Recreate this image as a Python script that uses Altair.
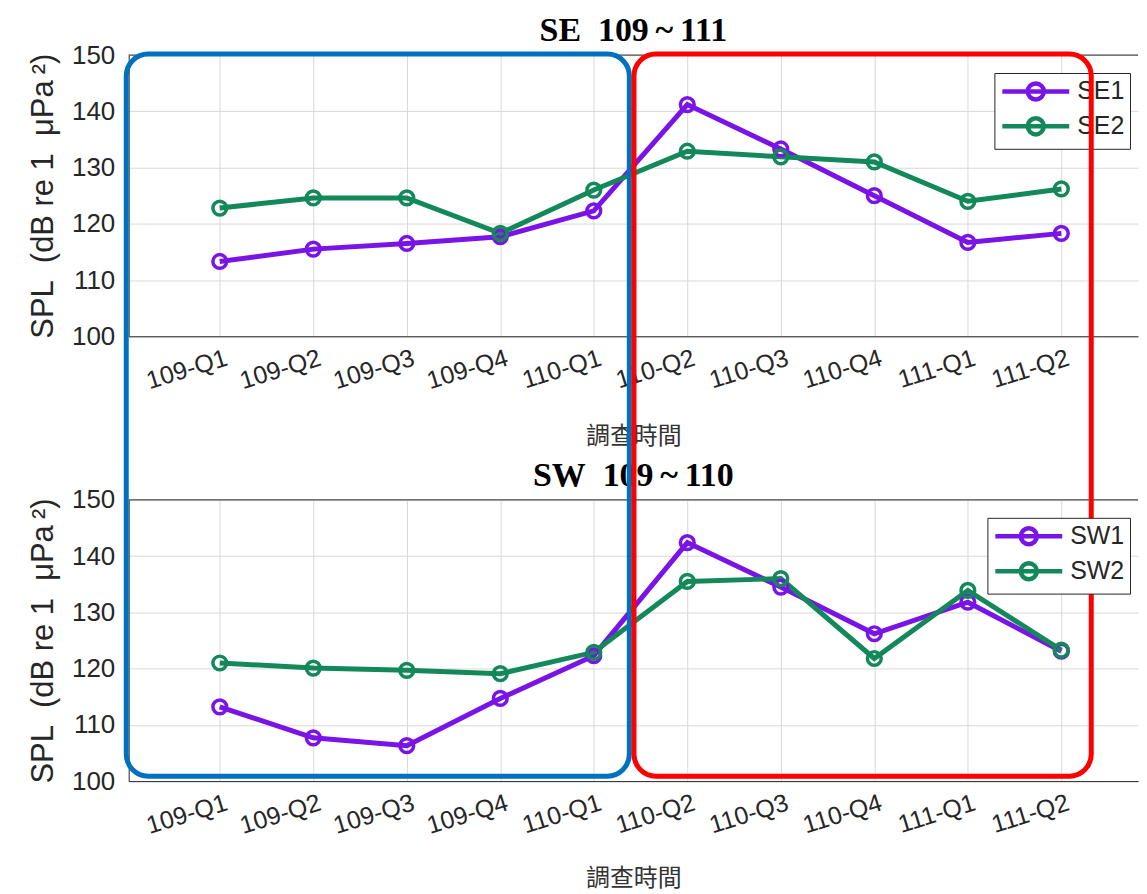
import json
import altair as alt
import pandas as pd

# ---------------- data ----------------
quarters = ["109-Q1", "109-Q2", "109-Q3", "109-Q4", "110-Q1",
            "110-Q2", "110-Q3", "110-Q4", "111-Q1", "111-Q2"]
positions = list(range(1, 11))

se_title = "SE\u00a0 109\u2009~\u2009111"
se_names = ["SE1", "SE2"]
se1 = [113.3, 115.5, 116.5, 117.7, 122.3, 141.2, 133.3, 125.0, 116.7, 118.3]
se2 = [122.8, 124.6, 124.6, 118.3, 126.0, 132.9, 131.9, 131.0, 124.0, 126.2]

sw_title = "SW\u00a0 109\u2009~\u2009110"
sw_names = ["SW1", "SW2"]
sw1 = [113.2, 107.7, 106.3, 114.7, 122.3, 142.4, 134.5, 126.2, 131.8, 123.1]
sw2 = [121.0, 120.1, 119.7, 119.1, 122.9, 135.5, 136.0, 121.8, 133.9, 123.3]

y_title = "SPL\u00a0 (dB re 1\u00a0 μPa\u2009²)"
x_title = "調查時間"
y_ticks = [100, 110, 120, 130, 140, 150]
x_domain = [0.026, 10.82]
y_domain = [100, 150]

# highlight boxes, in x-axis units (start, end)
blue_span = [0.0, 5.38]
red_span = [5.43, 10.32]

# ---------------- styling ----------------
PURPLE = "#7A14E6"
GREEN = "#13885A"
BLUE = "#0070C0"
RED = "#FF0000"
DARK = "#262626"
GRID = "#d9d9d9"
SANS = "Liberation Sans"

label_expr = json.dumps(quarters) + "[datum.value - 1]"
legend_path = ("M-3,0L3,0M-0.72,0A0.72,0.72,0,1,1,0.72,0"
               "A0.72,0.72,0,1,1,-0.72,0")

W, H = 1012, 282


def panel(names, s1, s2, title, legend_x, xtitle_pad, boxes=False):
    df = pd.DataFrame({
        "idx": positions * 2,
        "series": [names[0]] * len(s1) + [names[1]] * len(s2),
        "spl": s1 + s2,
    })
    x = alt.X("idx:Q",
              scale=alt.Scale(domain=x_domain, nice=False, zero=False),
              axis=alt.Axis(values=positions, labelExpr=label_expr,
                            labelAngle=-17, labelAlign="right",
                            labelBaseline="top", labelPadding=9,
                            labelOffset=3, labelOverlap=False,
                            labelFlush=False, labelFont=SANS,
                            labelFontSize=25, labelColor=DARK,
                            ticks=False, domainColor=DARK,
                            gridColor=GRID, title=x_title,
                            titleFont="Noto Sans CJK TC", titleFontSize=24,
                            titleFontWeight="normal", titleColor="#333333",
                            titlePadding=xtitle_pad))
    y = alt.Y("spl:Q",
              scale=alt.Scale(domain=y_domain, nice=False, zero=False),
              axis=alt.Axis(values=y_ticks, labelFont=SANS, labelFontSize=26,
                            labelColor=DARK, labelPadding=14, ticks=False,
                            domainColor=DARK, gridColor=GRID,
                            title=y_title, titleFont=SANS,
                            titleFontSize=31, titleFontWeight="normal",
                            titleColor=DARK, titlePadding=12))
    legend = alt.Legend(title=None, orient="none", legendX=legend_x,
                        legendY=18, symbolType=legend_path, symbolSize=500,
                        symbolStrokeWidth=4.5, symbolOffset=23,
                        labelOffset=28, labelFont=SANS, labelFontSize=25,
                        labelColor=DARK, padding=5, rowPadding=0,
                        strokeColor=DARK, fillColor="white")
    color = alt.Color("series:N",
                      scale=alt.Scale(domain=names, range=[PURPLE, GREEN]),
                      legend=legend)
    base = alt.Chart(df).encode(x=x, y=y, color=color)
    lines = base.mark_line(strokeWidth=5)
    pts = base.mark_point(filled=False, size=190, strokeWidth=3.5, opacity=1)
    top_rule = alt.Chart(pd.DataFrame({"spl": [y_domain[1]]})).mark_rule(
        color=DARK, strokeWidth=1).encode(y="spl:Q")
    head = alt.Chart(pd.DataFrame({"t": [title]})).mark_text(
        font="Liberation Serif", fontSize=34, fontWeight="bold",
        color="black", align="center", baseline="alphabetic").encode(
        text="t:N", x=alt.value(W / 2), y=alt.value(-14))
    layers = [top_rule, lines, pts, head]
    if boxes:
        for span, col in ((blue_span, BLUE), (red_span, RED)):
            box = alt.Chart(pd.DataFrame({"x0": [span[0]], "x1": [span[1]]})
                            ).mark_rect(cornerRadius=22, fillOpacity=0,
                                        stroke=col, strokeWidth=5).encode(
                x=alt.X("x0:Q", title=x_title), x2="x1:Q",
                y=alt.value(-447), y2=alt.value(277))
            layers.append(box)
    return alt.layer(*layers).properties(width=W, height=H)


top = panel(se_names, se1, se2, se_title, 868, 31)
bottom = panel(sw_names, sw1, sw2, sw_title, 861, 28, boxes=True)

chart = alt.vconcat(top, bottom, spacing=164, bounds="flush").resolve_scale(
    color="independent").properties(
    padding={"left": 19, "top": 5, "right": 0, "bottom": 0},
    background="white").configure_view(stroke=None)

chart.save("out.html", embed_options={"renderer": "svg", "actions": False})
